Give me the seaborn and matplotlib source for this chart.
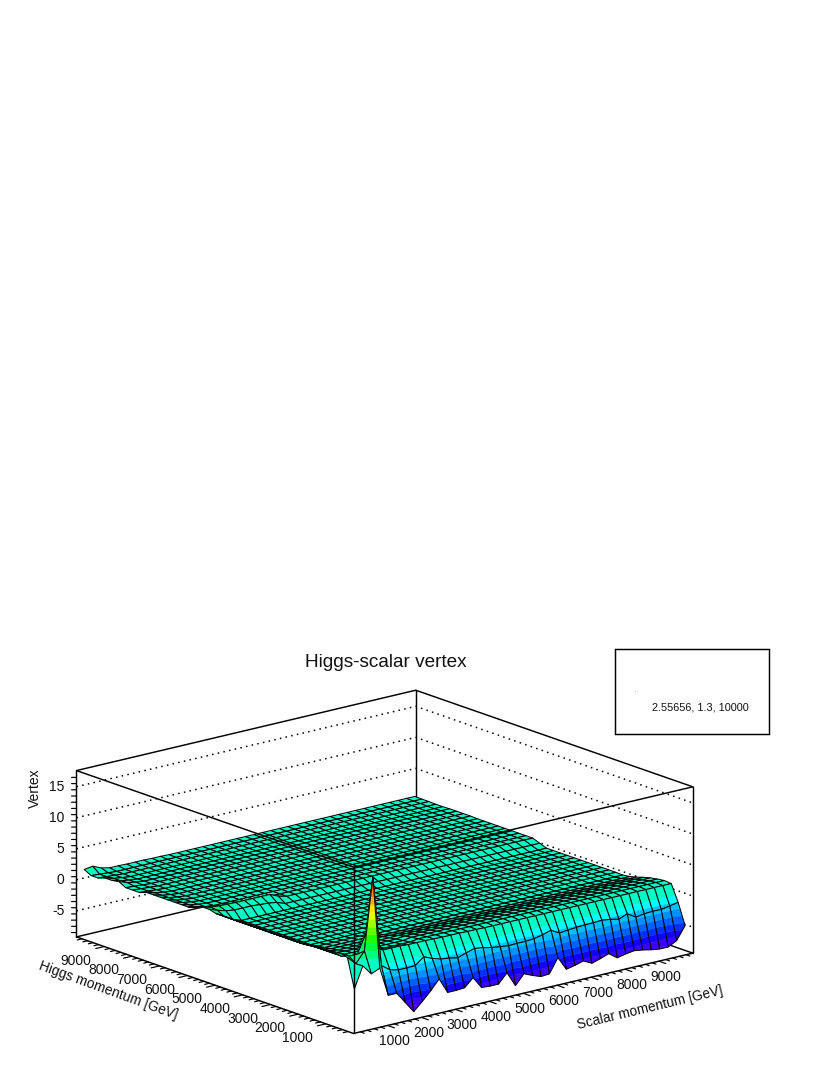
import numpy as np
import matplotlib
matplotlib.use("Agg")
import matplotlib.pyplot as plt
from matplotlib.patches import Rectangle
from matplotlib.lines import Line2D
from matplotlib.transforms import offset_copy
from mpl_toolkits.mplot3d.art3d import Poly3DCollection, Line3DCollection
import seaborn as sns

# ---------- data ----------
TITLE = "Higgs-scalar vertex"
X_LABEL = "Scalar momentum [GeV]"
Y_LABEL = "Higgs momentum [GeV]"
Z_LABEL = "Vertex"
STATS = "2.55656, 1.3, 10000"
TICKS_XY = [1000, 2000, 3000, 4000, 5000, 6000, 7000, 8000, 9000]
TICKS_Z = [-5, 0, 5, 10, 15]
BIN_WIDTH = 250

row0 = [-2.4, 1.0, -0.6, 0.0, -4.7, -4.7, -6.5, -8.3, -7.0, -5.6, -4.0, -6.5, -6.5, -6.4, -5.1, -7.0, -7.1, -7.1, -5.6, -8.0,
        -6.4, -7.0, -7.5, -7.4, -5.1, -7.3, -7.0, -6.6, -7.3, -6.9, -6.4, -7.4, -7.1, -6.9, -7.1, -7.4, -7.6, -7.6, -6.9, -4.8]
row1 = [2.3, 0.95, 2.7, 14.3, -0.3, -1.3, -1.65, -1.65, -1.6, -0.5, -1.1, -1.5, -1.7, -1.95, -1.5, -1.1, -1.3, -1.6, -1.8, -1.95,
        -1.9, -1.9, -1.8, -1.5, -1.1, -1.85, -1.7, -1.6, -1.5, -1.5, -1.4, -1.6, -1.9, -1.35, -2.2, -2.0, -1.9, -1.95, -1.7, -1.45]
row2 = [2.6, 1.8, 1.8, 4.8, 2.2, 1.5, 1.5, 1.5, 1.4, 1.4, 1.4, 1.35, 1.3, 1.3, 1.3, 1.25, 1.25, 1.2, 1.2, 1.2,
        1.2, 1.2, 1.2, 1.2, 1.2, 1.2, 1.2, 1.2, 1.2, 1.2, 1.2, 1.2, 1.2, 1.2, 1.2, 1.2, 1.2, 1.2, 1.2, 1.2]
row3 = [2.3, 1.4, 1.1] + [1.1] * 7 + [1.3] * 30
row4 = [2.2, 1.4, 1.0] + [0.95] * 7 + [1.15] * 30
row5 = [2.2, 1.4, 0.9] + [0.8] * 7 + [0.95] * 30
row6 = [2.2, 1.4, 0.8] + [0.6] * 7 + [0.65] * 30
row7 = [2.1, 1.4, 0.7] + [0.4] * 7 + [0.3] * 30
row8 = [2.0, 1.3, 0.6] + [0.2] * 7 + [0.0] * 30
row9 = [2.0, 1.2, 0.5] + [0.05] * 7 + [-0.15] * 30
row_mid = [2.0, 1.2, 0.4] + [-0.1] * 37
row21 = [2.3, 1.8, 1.4, 1.2, 1.2, 1.2, 1.1, 1.0, 0.8] + [0.3] * 31
row22 = [2.3, 1.9, 1.8, 1.75, 1.7, 1.7, 1.7, 1.7, 1.7, 1.1] + [0.75] * 30
row23 = [1.9, 1.5, 1.2, 1.1, 1.0, 1.0, 0.9, 0.9, 0.85] + [0.75] * 31
row_back = [1.5, 1.1, 0.9] + [0.75] * 37
row_back_b = [1.1, 1.0, 0.9] + [0.8] * 37
row34 = [1.7, 1.2, 0.95] + [0.8] * 37
row39 = [1.7, 1.9, 1.3, 1.0, 1.0, 0.95, 0.95, 0.95, 0.9, 0.9] + [0.85] * 30

Z = np.array([row0, row1, row2, row3, row4, row5, row6, row7, row8, row9]
             + [row_mid] * 11 + [row21, row22, row23]
             + [row_back] * 7 + [row_back_b] * 3 + [row34]
             + [row_back] * 2 + [row_back_b] * 2 + [row39])

LEVELS = [-7.4, -6.4, -5.4, -4.4, -3.4, -2.4, -1.4, -0.5, 1.6, 2.8, 4.0, 5.2, 6.4, 7.6, 8.8, 10.0, 11.2, 12.4, 13.6, 14.8]
BAND_COLORS = ["#5a00e6", "#3c00ff", "#1400ff", "#0030ff", "#0060ff", "#0090ff", "#00c0ff", "#00ffff", "#00ffc4",
               "#00ff80", "#00ff40", "#20ff00", "#60ff00", "#a0ff00", "#e0ff00", "#ffe000", "#ffb000", "#ff8000",
               "#e04000", "#a02000", "#601000"]

# ---------- view ----------
sns.set_theme(style="white", rc={"font.family": ["Liberation Sans"]})
palette = sns.color_palette(BAND_COLORS)

X_MAX, Y_MAX = 10000, 10000
Z_MIN, Z_MAX = -9.2, 17.6
W, H = 830, 1075
S = 640
CX, CY = 376, 870.5

fig = plt.figure(figsize=(W / 100, H / 100), dpi=100, facecolor="white")
ax = fig.add_axes([(CX - S / 2) / W, 1 - (CY + S / 2) / H, S / W, S / H],
                  projection="3d", proj_type="ortho", computed_zorder=False)
ax.view_init(elev=16.7, azim=-129.5)
ax.set_box_aspect((438, 434, 173), zoom=0.975)
ax.set_xlim(0, X_MAX, view_margin=0)
ax.set_ylim(0, Y_MAX, view_margin=0)
ax.set_zlim(Z_MIN, Z_MAX, view_margin=0)
ax.set_axis_off()
ax.patch.set_alpha(0)

x_c = (np.arange(Z.shape[1]) + 0.5) * BIN_WIDTH
y_c = (np.arange(Z.shape[0]) + 0.5) * BIN_WIDTH


def clip(poly, zlo, zhi):
    """Cut a 3D polygon to the height interval zlo..zhi."""
    def half(pts, lim, keep_above):
        out = []
        n = len(pts)
        for k in range(n):
            a, b = pts[k], pts[(k + 1) % n]
            ina = a[2] >= lim if keep_above else a[2] <= lim
            inb = b[2] >= lim if keep_above else b[2] <= lim
            if ina:
                out.append(a)
            if ina != inb:
                t = (lim - a[2]) / (b[2] - a[2])
                out.append(tuple(a[m] + t * (b[m] - a[m]) for m in range(3)))
        return out
    pts = poly
    if zlo is not None and pts:
        pts = half(pts, zlo, True)
    if zhi is not None and pts:
        pts = half(pts, zhi, False)
    return pts


edges = [None] + LEVELS + [None]
order = 10
ny, nx = Z.shape
for j in range(ny - 2, -1, -1):
    for i in range(nx - 2, -1, -1):
        quad = [(x_c[i], y_c[j], Z[j, i]), (x_c[i + 1], y_c[j], Z[j, i + 1]),
                (x_c[i + 1], y_c[j + 1], Z[j + 1, i + 1]), (x_c[i], y_c[j + 1], Z[j + 1, i])]
        zs = [p[2] for p in quad]
        polys, cols = [], []
        for b, col in enumerate(palette):
            lo, hi = edges[b], edges[b + 1]
            if (hi is not None and min(zs) > hi) or (lo is not None and max(zs) < lo):
                continue
            pts = clip(quad, lo, hi)
            if len(pts) >= 3:
                polys.append(pts)
                cols.append(col)
        pc = Poly3DCollection(polys, facecolors=cols, edgecolors=cols, linewidths=0.25, zorder=order)
        ax.add_collection3d(pc, autolim=False)
        lc = Line3DCollection([quad + [quad[0]]], colors="#080808", linewidths=0.75, zorder=order + 0.5)
        ax.add_collection3d(lc, autolim=False)
        order += 1

# ---------- back walls, box ----------
for z in TICKS_Z:
    ax.plot([0, X_MAX, X_MAX], [Y_MAX, Y_MAX, 0], [z, z, z], color="black", lw=1.1,
            linestyle=(0, (1, 2.8)), zorder=2)
back = dict(color="black", lw=1.05, zorder=3)
ax.plot([0, X_MAX, X_MAX], [Y_MAX, Y_MAX, 0], [Z_MIN, Z_MIN, Z_MIN], **back)
ax.plot([0, X_MAX, X_MAX], [Y_MAX, Y_MAX, 0], [Z_MAX, Z_MAX, Z_MAX], **back)
ax.plot([X_MAX, X_MAX], [Y_MAX, Y_MAX], [Z_MIN, Z_MAX], **back)
front = dict(color="black", lw=1.05, zorder=9000)
ax.plot([0, 0, X_MAX], [Y_MAX, 0, 0], [Z_MAX, Z_MAX, Z_MAX], **front)
ax.plot([0, 0, X_MAX], [Y_MAX, 0, 0], [Z_MIN, Z_MIN, Z_MIN], **front)
ax.plot([0, 0], [0, 0], [Z_MIN, Z_MAX], **front)
ax.plot([0, 0], [Y_MAX, Y_MAX], [Z_MIN, Z_MAX], **front)
ax.plot([X_MAX, X_MAX], [0, 0], [Z_MIN, Z_MAX], **front)

# ---------- ticks ----------
tick = dict(color="black", lw=0.85, zorder=9000)
for v in range(200, 10000, 200):
    major = v % 1000 == 0
    ax.plot([v, v], [0, -(250 if major else 140)], [Z_MIN, Z_MIN], **tick)
    ax.plot([0, -(250 if major else 140)], [v, v], [Z_MIN, Z_MIN], **tick)
for k in range(-85, 175, 10):
    z = k / 10
    f = 1.0 if k % 50 == 0 else 0.55
    ax.plot([0, -158 * f], [Y_MAX, Y_MAX + 132 * f], [z, z], **tick)

FS = 10.0
tx = offset_copy(ax.transData, fig=fig, x=7, y=-16, units="dots")
ty = offset_copy(ax.transData, fig=fig, x=-28, y=-14, units="dots")
tz = offset_copy(ax.transData, fig=fig, x=-12, y=0, units="dots")
for v in TICKS_XY:
    ax.text(v, 0, Z_MIN, str(v), transform=tx, ha="center", va="center", fontsize=FS, color="#111111", zorder=9001)
    ax.text(0, v, Z_MIN, str(v), transform=ty, ha="center", va="center", fontsize=FS, color="#111111", zorder=9001)
for v in TICKS_Z:
    ax.text(0, Y_MAX, v, str(v), transform=tz, ha="right", va="center", fontsize=FS, color="#111111", zorder=9001)


def fx(p):
    return p / W


def fy(p):
    return 1 - p / H


fig.text(fx(385.5), fy(662.5), TITLE, ha="center", va="center", fontsize=13.7, color="#111111")
fig.text(fx(108), fy(990.5), Y_LABEL, ha="center", va="center", rotation=-20, rotation_mode="anchor", fontsize=9.95, color="#111111")
fig.text(fx(650.5), fy(1007.5), X_LABEL, ha="center", va="center", rotation=13.5, rotation_mode="anchor", fontsize=9.85, color="#111111")
fig.text(fx(35), fy(788), Z_LABEL, ha="center", va="center", rotation=90, fontsize=FS, color="#111111")
fig.add_artist(Rectangle((fx(615), fy(734)), 154 / W, 85 / H, transform=fig.transFigure, fill=False, ec="black", lw=1.05))
fig.text(fx(700.5), fy(707), STATS, ha="center", va="center", fontsize=7.8, color="#111111")
fig.add_artist(Line2D([fx(635)], [fy(691)], marker="s", ms=0.35, mew=0, color="#555555", transform=fig.transFigure))

fig.savefig("out.png", dpi=100, facecolor="white")
